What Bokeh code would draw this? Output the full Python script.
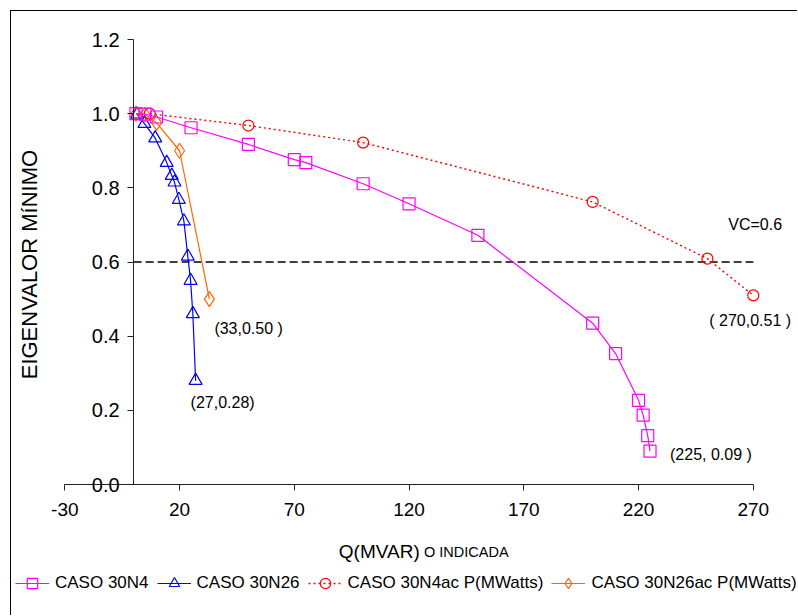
from bokeh.embed import file_html
from bokeh.models import (FixedTicker, Label, Legend, LegendItem,
                          NumeralTickFormatter, Range1d)
from bokeh.plotting import figure
from bokeh.resources import INLINE

FONT = "Liberation Sans"

# CASO 30N4: Q (MVAR) vs eigenvalor mínimo
q_30n4 = [1, 5, 10, 25, 50, 70, 75, 100, 120, 150, 200, 210, 220, 222, 224, 225]
ev_30n4 = [1.0, 0.999, 0.991, 0.962, 0.917, 0.876, 0.868, 0.811, 0.757, 0.672,
           0.435, 0.353, 0.227, 0.187, 0.132, 0.09]

# CASO 30N26
q_30n26 = [1.5, 4.7, 9.4, 14.4, 16.6, 17.8, 19.7, 21.9, 23.6, 24.8, 25.8, 27]
ev_30n26 = [0.998, 0.973, 0.934, 0.868, 0.833, 0.815, 0.768, 0.71, 0.615, 0.55,
            0.46, 0.28]

# CASO 30N4ac: P (MWatts)
p_30n4ac = [7, 50, 100, 200, 250, 270]
ev_30n4ac = [1.0, 0.968, 0.922, 0.762, 0.609, 0.51]

# CASO 30N26ac: P (MWatts)
p_30n26ac = [1, 5, 10, 20, 33]
ev_30n26ac = [1.0, 0.997, 0.975, 0.90, 0.50]

# voltage-collapse threshold line
vc_level = 0.6
vc_span = [0, 270]

x_ticks = [-30, 20, 70, 120, 170, 220, 270]
y_ticks = [0.0, 0.2, 0.4, 0.6, 0.8, 1.0, 1.2]
x_bounds = (-30, 270)
y_bounds = (0.0, 1.2)

# canvas geometry: the whole canvas is the plotting frame, the axes are
# pinned at Q = 0 / eigenvalor = 0 and limited to their bounds
W, H = 787, 605
AX_LEFT, AX_RIGHT = 53.3, 741.8     # canvas px of x = -30 and x = 270
AX_TOP, AX_BOTTOM = 28.0, 473.0     # canvas px of y = 1.2 and y = 0
sx = (AX_RIGHT - AX_LEFT) / (x_bounds[1] - x_bounds[0])
sy = (AX_BOTTOM - AX_TOP) / (y_bounds[1] - y_bounds[0])
x_lo = x_bounds[0] - AX_LEFT / sx
y_hi = y_bounds[1] + AX_TOP / sy

p = figure(width=W, height=H,
           x_range=Range1d(x_lo, x_lo + W / sx),
           y_range=Range1d(y_hi - H / sy, y_hi),
           output_backend="svg", toolbar_location=None, min_border=0)
p.styles = {"margin-left": "10px", "margin-top": "10px",
            "border-left": "1px solid black", "border-top": "1px solid black"}
p.grid.visible = False
p.outline_line_color = None
p.background_fill_color = "white"
p.border_fill_color = "white"

p.xaxis.ticker = FixedTicker(ticks=x_ticks)
p.xaxis.major_label_overrides = {t: str(t) for t in x_ticks}
p.yaxis.ticker = FixedTicker(ticks=y_ticks)
p.yaxis.formatter = NumeralTickFormatter(format="0.0")
p.xaxis.fixed_location = 0
p.yaxis.fixed_location = 0
p.xaxis.bounds = x_bounds
p.yaxis.bounds = y_bounds
for ax in p.axis:
    ax.axis_line_color = "#222222"
    ax.major_tick_line_color = "#222222"
    ax.major_tick_out = 6
    ax.major_tick_in = 0
    ax.minor_tick_line_color = None
    ax.major_label_text_font = FONT
    ax.major_label_text_color = "black"
p.xaxis.major_label_text_font_size = "19px"
p.yaxis.major_label_text_font_size = "20px"
p.xaxis.major_label_standoff = 12
p.yaxis.major_label_standoff = 8

# threshold line
p.line(vc_span, [vc_level, vc_level], line_color="black", line_width=1.5,
       line_dash="8 4")


def series(x, y, color, marker, size, dash="solid", width=1.2):
    ln = p.line(x, y, line_color=color, line_width=width, line_dash=dash)
    pts = p.scatter(x, y, marker=marker, size=size, line_color=color,
                    fill_color=None, line_width=1.2)
    return [ln, pts]


r_n26 = series(q_30n26, ev_30n26, "#0000FF", "triangle", 13)
r_n26ac = series(p_30n26ac, ev_30n26ac, "#FF6600", "diamond", 15)
r_n4ac = series(p_30n4ac, ev_30n4ac, "#FF0000", "circle", 11, dash="2 3", width=1.4)
r_n4 = series(q_30n4, ev_30n4, "#FF00FF", "square", 12)

# point annotations
notes = [
    ("(33,0.50 )", p_30n26ac[-1], ev_30n26ac[-1], 5, -29),
    ("(27,0.28)", q_30n26[-1], ev_30n26[-1], -5, -22),
    ("( 270,0.51 )", p_30n4ac[-1], ev_30n4ac[-1], -44, -25),
    ("(225, 0.09 )", q_30n4[-1], ev_30n4[-1], 20, -3),
    ("VC=0.6", vc_span[-1], vc_level, -25, 38),
]
for txt, x, y, dx, dy in notes:
    p.add_layout(Label(x=x, y=y, x_offset=dx, y_offset=dy, text=txt,
                       text_font=FONT, text_font_size="16px",
                       text_color="black", text_align="left",
                       text_baseline="middle"))

# axis titles
p.add_layout(Label(x=-45.4, y=0.593, text="EIGENVALOR MíNIMO", angle=90,
                   angle_units="deg", text_font=FONT, text_font_size="22px",
                   text_align="center", text_baseline="middle",
                   text_color="black"))
p.add_layout(Label(x=89.4, y=-0.181, text="Q(MVAR)", text_font=FONT,
                   text_font_size="19px", text_align="left",
                   text_baseline="middle", text_color="black"))
p.add_layout(Label(x=126.5, y=-0.181, text="O INDICADA", text_font=FONT,
                   text_font_size="14.5px", text_align="left",
                   text_baseline="middle", text_color="black"))

legend = Legend(items=[
    LegendItem(label="CASO 30N4", renderers=r_n4),
    LegendItem(label="CASO 30N26", renderers=r_n26),
    LegendItem(label="CASO 30N4ac P(MWatts)", renderers=r_n4ac),
    LegendItem(label="CASO 30N26ac P(MWatts)", renderers=r_n26ac),
], orientation="horizontal", location=(4, 20))
legend.label_text_font = FONT
legend.label_text_font_size = "17px"
legend.label_text_color = "black"
legend.glyph_width = 34
legend.glyph_height = 26
legend.label_standoff = 6
legend.spacing = 8
legend.padding = 0
legend.margin = 0
legend.border_line_color = None
legend.background_fill_alpha = 0
p.add_layout(legend)

open("out.html", "w").write(file_html(p, INLINE))
